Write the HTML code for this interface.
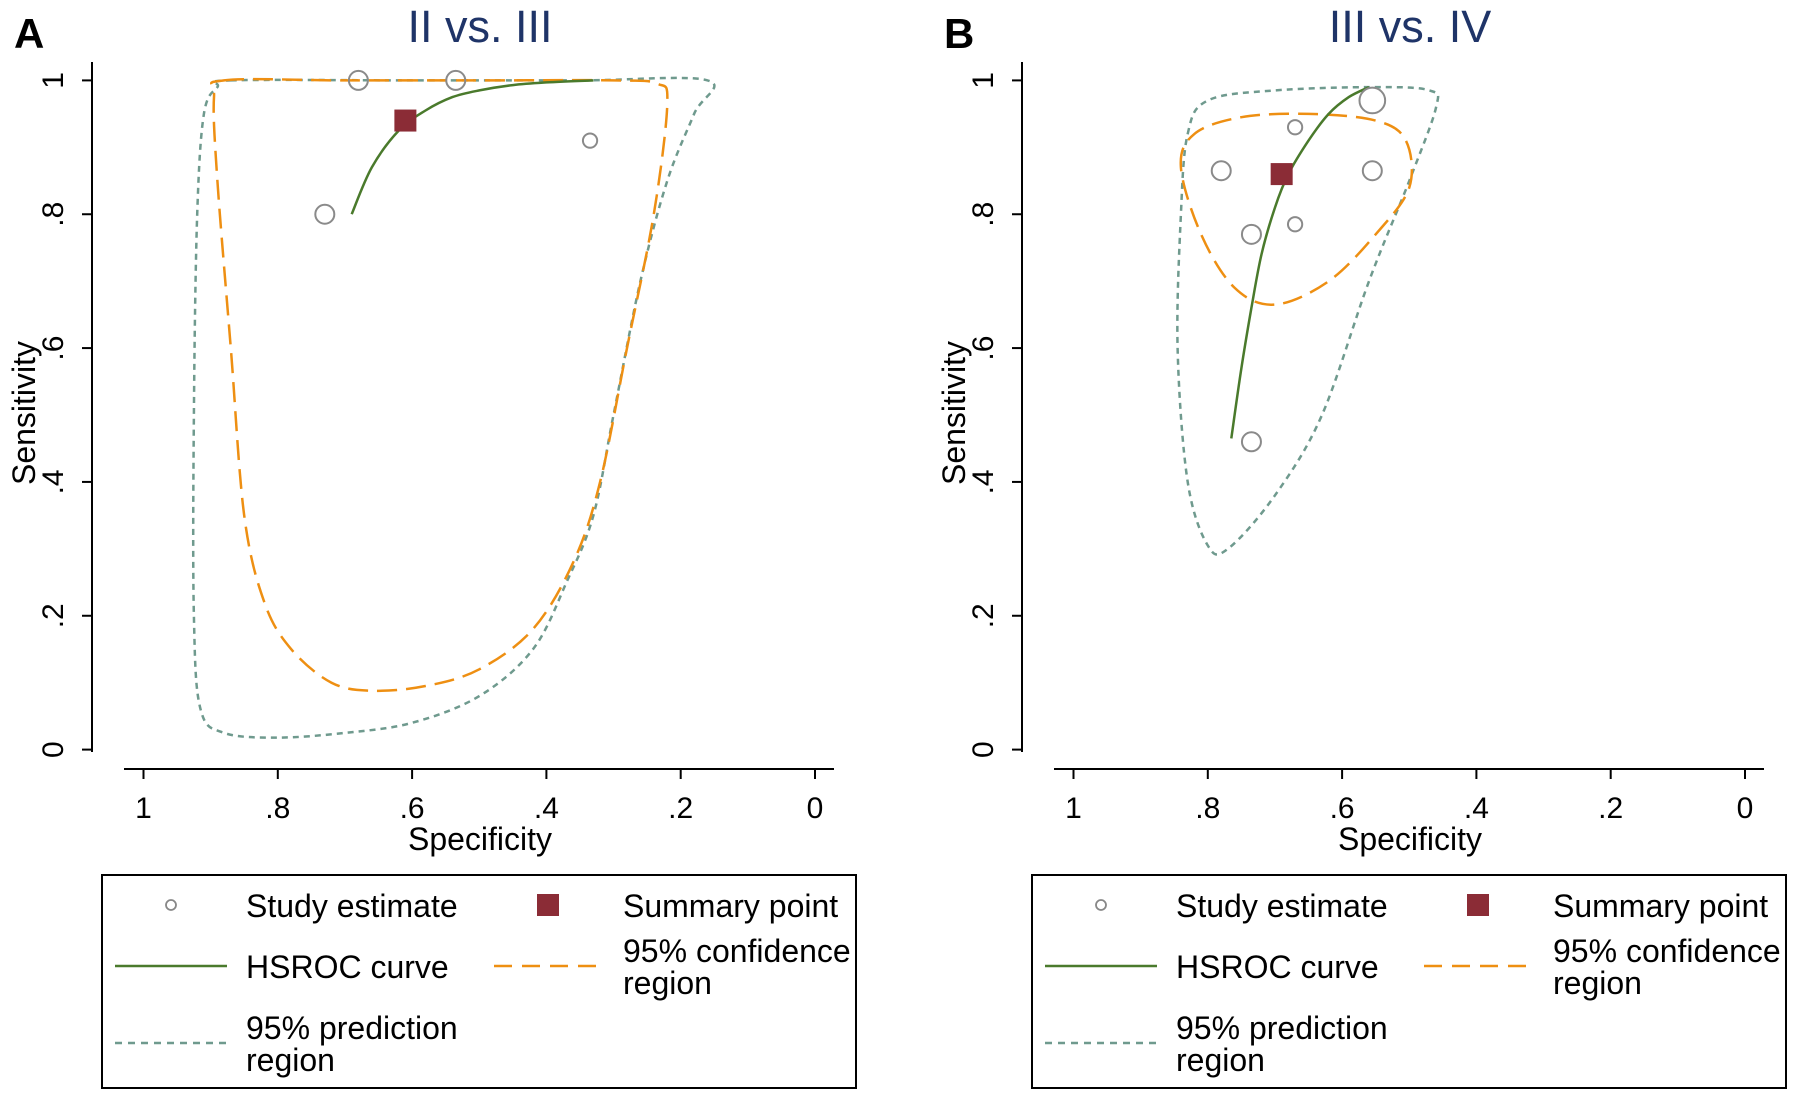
<!DOCTYPE html>
<html><head><meta charset="utf-8"><style>
body{margin:0;background:#fff;}
svg{display:block;font-family:"Liberation Sans",Arial,sans-serif;}
</style></head><body>
<svg id="fig" width="1800" height="1107" viewBox="0 0 1800 1107"></svg>
<script>
// ---- data (specificity, sensitivity) ----
const panelTitles = ["II vs. III", "III vs. IV"];
const panelLetters = ["A", "B"];
const xTicks = [1, 0.8, 0.6, 0.4, 0.2, 0];
const xTickLabels = ["1", ".8", ".6", ".4", ".2", "0"];
const yTicks = [0, 0.2, 0.4, 0.6, 0.8, 1];
const yTickLabels = ["0", ".2", ".4", ".6", ".8", "1"];

const studySpecA = [0.73, 0.68, 0.535, 0.335];
const studySensA = [0.80, 1.00, 1.00, 0.91];
const studySizeA = [1, 1, 1, 0.75];
const summaryA = [0.61, 0.94];
const hsrocSpecA = [0.69, 0.66, 0.62, 0.58, 0.54, 0.50, 0.45, 0.40, 0.33];
const hsrocSensA = [0.80, 0.87, 0.925, 0.955, 0.975, 0.985, 0.993, 0.997, 1.0];
const confSpecA = [0.88, 0.70, 0.50, 0.30, 0.235, 0.22, 0.24, 0.28, 0.32, 0.36, 0.42, 0.50, 0.58, 0.66, 0.72, 0.78, 0.82, 0.85, 0.87, 0.89, 0.895];
const confSensA = [1.00, 1.00, 1.00, 1.00, 0.995, 0.965, 0.80, 0.60, 0.40, 0.28, 0.18, 0.12, 0.095, 0.088, 0.10, 0.15, 0.22, 0.35, 0.60, 0.85, 0.975];
const predSpecA = [0.87, 0.60, 0.35, 0.16, 0.18, 0.22, 0.26, 0.30, 0.33, 0.37, 0.42, 0.50, 0.60, 0.70, 0.80, 0.88, 0.915, 0.925, 0.925, 0.92, 0.91, 0.89];
const predSensA = [1.00, 1.00, 1.00, 1.00, 0.95, 0.85, 0.70, 0.50, 0.35, 0.25, 0.15, 0.08, 0.04, 0.025, 0.018, 0.025, 0.06, 0.20, 0.50, 0.80, 0.95, 0.99];

const studySpecB = [0.78, 0.735, 0.735, 0.67, 0.67, 0.555, 0.555];
const studySensB = [0.865, 0.77, 0.46, 0.93, 0.785, 0.97, 0.865];
const studySizeB = [1, 1, 1, 0.75, 0.75, 1.35, 1];
const summaryB = [0.69, 0.86];
const hsrocSpecB = [0.765, 0.75, 0.735, 0.72, 0.70, 0.68, 0.65, 0.62, 0.59, 0.56];
const hsrocSensB = [0.465, 0.57, 0.66, 0.74, 0.81, 0.86, 0.91, 0.95, 0.975, 0.99];
const confSpecB = [0.84, 0.82, 0.75, 0.65, 0.55, 0.505, 0.50, 0.55, 0.62, 0.70, 0.76, 0.81];
const confSensB = [0.87, 0.92, 0.945, 0.95, 0.94, 0.91, 0.84, 0.77, 0.70, 0.665, 0.69, 0.77];
const predSpecB = [0.83, 0.80, 0.70, 0.55, 0.47, 0.46, 0.50, 0.56, 0.63, 0.70, 0.77, 0.80, 0.83, 0.845, 0.84];
const predSensB = [0.92, 0.97, 0.985, 0.99, 0.985, 0.96, 0.85, 0.70, 0.50, 0.38, 0.30, 0.305, 0.40, 0.60, 0.80];

const NS = "http://www.w3.org/2000/svg";
const svg = document.getElementById("fig");
function mk(tag, attrs, parent, text){
  const e = document.createElementNS(NS, tag);
  for (const k in attrs) e.setAttribute(k, attrs[k]);
  if (text !== undefined) e.textContent = text;
  (parent || svg).appendChild(e);
  return e;
}
function smoothPath(pts, closed){
  const n = pts.length; let d = "M" + pts[0][0].toFixed(1) + "," + pts[0][1].toFixed(1);
  const get = i => closed ? pts[(i + n) % n] : pts[Math.max(0, Math.min(n - 1, i))];
  const last = closed ? n : n - 1;
  for (let i = 0; i < last; i++){
    const p0 = get(i - 1), p1 = get(i), p2 = get(i + 1), p3 = get(i + 2);
    const c1 = [p1[0] + (p2[0] - p0[0]) / 6, p1[1] + (p2[1] - p0[1]) / 6];
    const c2 = [p2[0] - (p3[0] - p1[0]) / 6, p2[1] - (p3[1] - p1[1]) / 6];
    d += "C" + c1[0].toFixed(1) + "," + c1[1].toFixed(1) + " " + c2[0].toFixed(1) + "," + c2[1].toFixed(1) + " " + p2[0].toFixed(1) + "," + p2[1].toFixed(1);
  }
  return d + (closed ? "Z" : "");
}

const panels = [
  {ox: 0, d: {ss: studySpecA, se: studySensA, sz: studySizeA, sum: summaryA, hx: hsrocSpecA, hy: hsrocSensA, cx: confSpecA, cy: confSensA, px: predSpecA, py: predSensA}},
  {ox: 930, d: {ss: studySpecB, se: studySensB, sz: studySizeB, sum: summaryB, hx: hsrocSpecB, hy: hsrocSensB, cx: confSpecB, cy: confSensB, px: predSpecB, py: predSensB}}
];

panels.forEach((p, pi) => {
  const o = p.ox;
  const g = mk("g", {});
  
  
  const X = v => o + 815 - v * 671.5;
  const Y = v => 749.6 - v * 669.2;
  const d = p.d;

  const L = mk("text", {x: o + 14, y: 48, "font-size": 42, "font-weight": "bold", fill: "#000"}, g, panelLetters[pi]);
  
  
  const T = mk("text", {x: o + 480, y: 42, "font-size": 45, fill: "#1f3468", "text-anchor": "middle"}, g, panelTitles[pi]);
  
  

  const ya = mk("line", {x1: o + 92, y1: 62, x2: o + 92, y2: 752, stroke: "#000", "stroke-width": 2}, g);
  
  
  const xa = mk("line", {x1: o + 124, y1: 769, x2: o + 834, y2: 769, stroke: "#000", "stroke-width": 2}, g);
  
  
  yTicks.forEach((t, i) => {
    mk("line", {x1: o + 82, y1: Y(t), x2: o + 92, y2: Y(t), stroke: "#000", "stroke-width": 2}, g);
    const tl = mk("text", {x: 0, y: 0, "font-size": 30, "text-anchor": "middle", transform: `translate(${o + 63},${Y(t)}) rotate(-90)`}, g, yTickLabels[i]);
    
    
  });
  xTicks.forEach((t, i) => {
    mk("line", {x1: X(t), y1: 769, x2: X(t), y2: 779, stroke: "#000", "stroke-width": 2}, g);
    const tl = mk("text", {x: X(t), y: 818, "font-size": 30, "text-anchor": "middle"}, g, xTickLabels[i]);
    
    
  });
  const yt = mk("text", {x: 0, y: 0, "font-size": 32, "text-anchor": "middle", transform: `translate(${o + 35},413) rotate(-90)`}, g, "Sensitivity");
  
  
  const xt = mk("text", {x: o + 480, y: 850, "font-size": 32, "text-anchor": "middle"}, g, "Specificity");
  
  

  const pp = d.px.map((v, i) => [X(v), Y(d.py[i])]);
  const pr = mk("path", {d: smoothPath(pp, true), fill: "none", stroke: "#6f9a8e", "stroke-width": 2.5, "stroke-dasharray": "6,5"}, g);
  
  
  const cp = d.cx.map((v, i) => [X(v), Y(d.cy[i])]);
  const cr = mk("path", {d: smoothPath(cp, true), fill: "none", stroke: "#ee8f12", "stroke-width": 2.5, "stroke-dasharray": "20,9"}, g);
  
  
  const hp = d.hx.map((v, i) => [X(v), Y(d.hy[i])]);
  const hs = mk("path", {d: smoothPath(hp, false), fill: "none", stroke: "#4a7a2c", "stroke-width": 2.5}, g);
  
  
  d.ss.forEach((v, i) => {
    const c = mk("circle", {cx: X(v), cy: Y(d.se[i]), r: 9.5 * d.sz[i], fill: "#fff", "fill-opacity": 0, stroke: "#8a8a8a", "stroke-width": 2}, g);
    
    
  });
  const s = mk("rect", {x: X(d.sum[0]) - 11, y: Y(d.sum[1]) - 11, width: 22, height: 22, fill: "#8b2c36"}, g);
  
  

  const lg = mk("g", {}, g);
  
  
  mk("rect", {x: o + 102, y: 875, width: 754, height: 213, fill: "none", stroke: "#000", "stroke-width": 2}, lg);
  const fs = {"font-size": 32, fill: "#000"};
  mk("circle", {cx: o + 171, cy: 905, r: 5, fill: "none", stroke: "#888", "stroke-width": 1.8}, lg);
  mk("text", Object.assign({x: o + 246, y: 917}, fs), lg, "Study estimate");
  mk("rect", {x: o + 537, y: 894, width: 22, height: 22, fill: "#8b2c36"}, lg);
  mk("text", Object.assign({x: o + 623, y: 917}, fs), lg, "Summary point");
  mk("line", {x1: o + 115, y1: 966, x2: o + 227, y2: 966, stroke: "#4a7a2c", "stroke-width": 2.5}, lg);
  mk("text", Object.assign({x: o + 246, y: 978}, fs), lg, "HSROC curve");
  mk("line", {x1: o + 494, y1: 966, x2: o + 600, y2: 966, stroke: "#ee8f12", "stroke-width": 2.5, "stroke-dasharray": "18,10"}, lg);
  mk("text", Object.assign({x: o + 623, y: 962}, fs), lg, "95% confidence");
  mk("text", Object.assign({x: o + 623, y: 994}, fs), lg, "region");
  mk("line", {x1: o + 115, y1: 1043, x2: o + 227, y2: 1043, stroke: "#6f9a8e", "stroke-width": 2.5, "stroke-dasharray": "7,6"}, lg);
  mk("text", Object.assign({x: o + 246, y: 1039}, fs), lg, "95% prediction");
  mk("text", Object.assign({x: o + 246, y: 1071}, fs), lg, "region");
});
</script>
</body></html>
